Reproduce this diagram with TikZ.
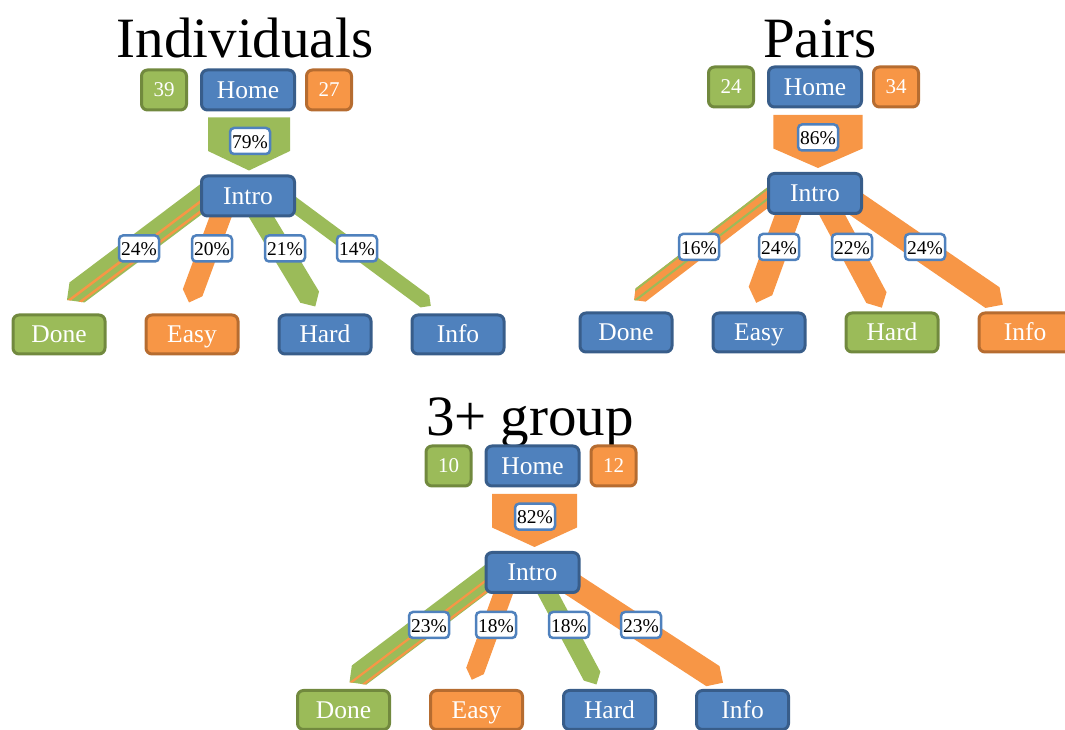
\documentclass[tikz,border=0pt]{standalone}
\usepackage{fontspec}
\setmainfont{Liberation Serif}
\usetikzlibrary{positioning,calc,backgrounds}

\definecolor{oblue}{RGB}{79,129,189}
\definecolor{oblueD}{RGB}{56,93,138}
\definecolor{ogreen}{RGB}{155,187,89}
\definecolor{ogreenD}{RGB}{113,137,62}
\definecolor{oorange}{RGB}{247,150,70}
\definecolor{oorangeD}{RGB}{182,108,48}

\tikzset{
  box/.style ={draw, line width=3pt, rounded corners=6pt, text=white,
               minimum width=93pt, minimum height=40pt, inner sep=0pt,
               text height=21.5pt, text depth=4.5pt,
               font=\fontsize{25.5}{28}\selectfont},
  blu/.style ={box, fill=oblue,   draw=oblueD},
  grn/.style ={box, fill=ogreen,  draw=ogreenD},
  org/.style ={box, fill=oorange, draw=oorangeD},
  num/.style ={minimum width=45pt, text height=17pt, text depth=3.6pt,
               font=\fontsize{21}{24}\selectfont},
  leaf/.style={minimum width=92pt, minimum height=39pt},
  pct/.style ={draw=oblue, fill=white, line width=2.5pt, rounded corners=4pt,
               minimum width=40pt, minimum height=26pt, inner sep=1pt,
               text height=15pt, text depth=0.4pt,
               font=\fontsize{19.5}{21}\selectfont},
  ttl/.style ={anchor=base, font=\fontsize{57}{60}\selectfont},
}

% outline of the current band (fa = start, fb = tip, fc = tip base)
\newcommand{\bandpath}[1]{($(fa)!#1/2!90:(fb)$) -- ($(fc)!#1/2!90:(fb)$) -- (fb)
      -- ($(fc)!#1/2!-90:(fb)$) -- ($(fa)!#1/2!-90:(fb)$) -- cycle}
% band from #3 to #4 (tip), width #5, tip depth #6; #1 = stripes drawn inside it
\newcommand{\flow}[6][]{%
  \coordinate (fa) at #3;
  \coordinate (fb) at #4;
  \coordinate (fc) at ($(fb)!#6!(fa)$);
  \fill[#2] \bandpath{#5};
  \begin{scope}
    \clip \bandpath{#5};
    #1
  \end{scope}}
% stripe parallel to the current band, #2 off its middle line
\newcommand{\stripe}[3]{\draw[#1, line width=#3] ($(fa)!#2!90:(fb)$) -- ($(fb)!#2!-90:(fa)$);}

\begin{document}
\begin{tikzpicture}[x=1pt, y=1pt]
  \useasboundingbox (0,0) rectangle (1065,730);

  % --- individuals ----------------------------------------------------
  \node[ttl] (iTitle) at (245,672) {Individuals};
  \node[blu] (iHome) at (248,640) {Home};
  \node[grn, num, left=12pt of iHome] (iNew)  {39};
  \node[org, num, right=9pt of iHome] (iBack) {27};
  \node[blu, below=63pt of iHome] (iIntro) {Intro};
  \node[grn, leaf, below=96pt of iIntro, xshift=-189pt] (iDone) {Done};
  \node[org, leaf, right=38pt of iDone] (iEasy) {Easy};
  \node[blu, leaf, right=38pt of iEasy] (iHard) {Hard};
  \node[blu, leaf, right=38pt of iHard] (iInfo) {Info};

  \node[pct] (iStay)   at ($(iHome)+(2,-51)$)        {79\%};
  \node[pct] (iToDone) at ($(iIntro)+(-109,-52.5)$)  {24\%};
  \node[pct] (iToEasy) at ($(iIntro)+(-36,-52.5)$)   {20\%};
  \node[pct] (iToHard) at ($(iIntro)+(37,-52.5)$)    {21\%};
  \node[pct] (iToInfo) at ($(iIntro)+(109,-52.5)$)   {14\%};

  % --- pairs ----------------------------------------------------------
  \node[ttl] (pTitle) at (820,672) {Pairs};
  \node[blu] (pHome) at (815,643) {Home};
  \node[grn, num, left=12pt of pHome] (pNew)  {24};
  \node[org, num, right=9pt of pHome] (pBack) {34};
  \node[blu, below=63.5pt of pHome] (pIntro) {Intro};
  \node[blu, leaf, below=96.5pt of pIntro, xshift=-189pt] (pDone) {Done};
  \node[blu, leaf, right=38pt of pDone] (pEasy) {Easy};
  \node[grn, leaf, right=38pt of pEasy] (pHard) {Hard};
  \node[org, leaf, right=38pt of pHard] (pInfo) {Info};

  \node[pct] (pStay)   at ($(pHome)+(3,-50.5)$)      {86\%};
  \node[pct] (pToDone) at ($(pIntro)+(-116,-53.5)$)  {16\%};
  \node[pct] (pToEasy) at ($(pIntro)+(-36,-53.5)$)   {24\%};
  \node[pct] (pToHard) at ($(pIntro)+(37,-53.5)$)    {22\%};
  \node[pct] (pToInfo) at ($(pIntro)+(110,-53.5)$)   {24\%};

  % --- 3+ group -------------------------------------------------------
  \node[ttl] (gTitle) at (530,294) {3+ group};
  \node[blu] (gHome) at (532.5,264) {Home};
  \node[grn, num, left=12pt of gHome] (gNew)  {10};
  \node[org, num, right=9pt of gHome] (gBack) {12};
  \node[blu, below=63.5pt of gHome] (gIntro) {Intro};
  \node[grn, leaf, below=95pt of gIntro, xshift=-189pt] (gDone) {Done};
  \node[org, leaf, right=38pt of gDone] (gEasy) {Easy};
  \node[blu, leaf, right=38pt of gEasy] (gHard) {Hard};
  \node[blu, leaf, right=38pt of gHard] (gInfo) {Info};

  \node[pct] (gStay)   at ($(gHome)+(2.5,-50.7)$)     {82\%};
  \node[pct] (gToDone) at ($(gIntro)+(-103.5,-52.5)$) {23\%};
  \node[pct] (gToEasy) at ($(gIntro)+(-36.5,-52.5)$)  {18\%};
  \node[pct] (gToHard) at ($(gIntro)+(36.5,-52.5)$)   {18\%};
  \node[pct] (gToInfo) at ($(gIntro)+(108.5,-52.5)$)  {23\%};

  % --- bands, behind the boxes ----------------------------------------
  \begin{scope}[on background layer]
    \flow{ogreen}{($(iHome)+(1,-27.5)$)}{($(iHome)+(1,-80.5)$)}{82pt}{19.5pt}
    \flow[\stripe{oorange}{1.5pt}{2.5pt}\stripe{oorange}{9.5pt}{2.5pt}]{ogreen}
      {($(iIntro)+(-34,6.5)$)}{($(iDone.north)+(8,13.5)$)}{25pt}{12.5pt}
    \flow{oorange}{($(iIntro)+(-17.5,6)$)}{($(iEasy.north)+(-3,11)$)}{20.8pt}{10.4pt}
    \flow{ogreen}{($(iIntro)+(-1.6,4.1)$)}{($(iHard.north)+(-9.7,7)$)}{21.8pt}{10.9pt}
    \flow{ogreen}{($(iIntro)+(19.7,10.8)$)}{($(iInfo.north)+(-27.2,7.6)$)}{14.6pt}{7.3pt}

    \flow{oorange}{($(pHome)+(3,-28)$)}{($(pHome)+(3,-81)$)}{89.4pt}{19.5pt}
    \flow[\stripe{ogreen}{-7.3pt}{2pt}\stripe{ogreen}{1pt}{2pt}]{oorange}
      {($(pIntro)+(-41.4,0.4)$)}{($(pDone.north)+(8,11.4)$)}{16.6pt}{8.3pt}
    \flow{oorange}{($(pIntro)+(-18.5,2)$)}{($(pEasy.north)+(-2.8,8.7)$)}{25pt}{12.5pt}
    \flow{oorange}{($(pIntro)+(5.4,0.6)$)}{($(pHard.north)+(-10.2,3.8)$)}{22.9pt}{11.4pt}
    \flow{oorange}{($(pIntro)+(39.1,-9.3)$)}{($(pInfo.north)+(-22.2,6.8)$)}{25pt}{12.5pt}

    \flow{oorange}{($(gHome)+(2,-28)$)}{($(gHome)+(2,-81)$)}{85pt}{19.5pt}
    \flow[\stripe{oorange}{1pt}{2.2pt}\stripe{oorange}{10pt}{2.2pt}]{ogreen}
      {($(gIntro)+(-38.2,-0.5)$)}{($(gDone.north)+(6,6.7)$)}{24pt}{12pt}
    \flow{oorange}{($(gIntro)+(-21,2)$)}{($(gEasy.north)+(-4.7,9.2)$)}{18.7pt}{9.4pt}
    \flow{ogreen}{($(gIntro)+(3.8,0.8)$)}{($(gHard.north)+(-13,4.5)$)}{18.7pt}{9.4pt}
    \flow{oorange}{($(gIntro)+(33.4,-7.9)$)}{($(gInfo.north)+(-19.5,6.3)$)}{24pt}{12pt}
  \end{scope}
\end{tikzpicture}
\end{document}
